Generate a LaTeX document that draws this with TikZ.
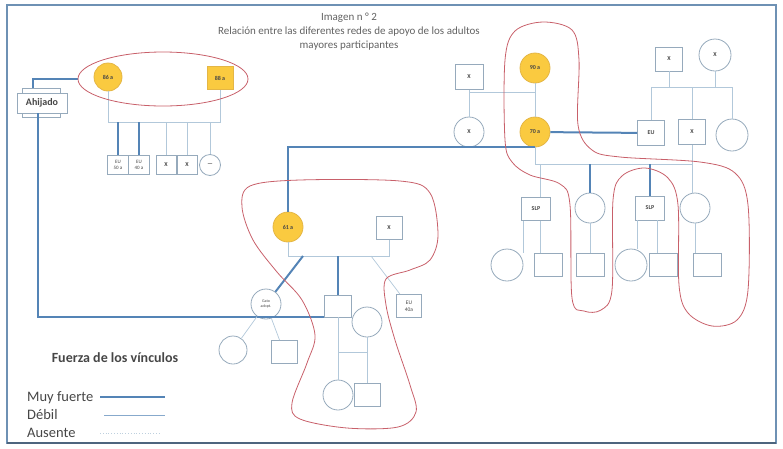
\documentclass[tikz,border=0pt]{standalone}
\usepackage{fontspec}
\setmainfont{Carlito}
\definecolor{nodeline}{RGB}{150,170,188}
\definecolor{tiestrong}{RGB}{84,132,182}
\definecolor{tieweak}{RGB}{178,200,218}
\definecolor{tieabsent}{RGB}{190,208,222}
\definecolor{elderfill}{RGB}{250,202,64}
\definecolor{elderline}{RGB}{228,182,70}
\definecolor{groupred}{RGB}{200,96,106}
\definecolor{framecol}{RGB}{110,145,180}
\definecolor{labelcol}{RGB}{70,70,70}
\tikzset{
  box/.style={draw=nodeline, fill=white, line width=0.8pt, inner sep=0pt,
    minimum width=26pt, minimum height=23pt, text=labelcol,
    font=\fontsize{6}{7}\selectfont\bfseries},
  ring/.style={circle, draw=nodeline, fill=white, line width=0.8pt, inner sep=0pt,
    minimum size=30pt, text=labelcol, font=\fontsize{6}{7}\selectfont\bfseries},
  elder/.style={fill=elderfill, draw=elderline},
  strong/.style={draw=tiestrong, line width=2pt},
  weak/.style={draw=tieweak, line width=0.7pt},
  absent/.style={draw=tieabsent, line width=0.8pt, dotted},
  group/.style={draw=groupred, line width=0.8pt},
  title/.style={text=labelcol!85, inner sep=0pt, font=\fontsize{11}{12}\selectfont},
  legend/.style={text=labelcol, inner sep=0pt, font=\fontsize{14.5}{15}\selectfont},
}
\begin{document}
\begin{tikzpicture}[x=1pt,y=-1pt]
\useasboundingbox (0,0) rectangle (783,448);
%Frame
\draw[draw=framecol, line width=1.6pt] (7,5) rectangle (776,443);
\draw[draw=framecol!70!black, line width=2.5pt] (7,443) -- (776,443);
%Title
\node[title] (ttl1) at (349,18) {Imagen n ° 2};
\node[title] (ttl2) at (349,32) {Relación entre las diferentes redes de apoyo de los adultos};
\node[title] (ttl3) at (349,46) {mayores participantes};

%Top left couple
\node[ring,elder,minimum size=28pt] (g86) at (108,77) {86 a};
\node[box,elder] (g88) at (220,78) {88 a};
\coordinate (tlL) at (108,122);
\coordinate (tlR) at (220,122);
\draw[weak] (g86) -- (tlL) -- (tlR) -- (g88);
%Their children
\node[box,minimum width=21pt,minimum height=19pt,align=center,font=\fontsize{5}{5.5}\selectfont] (c1) at (118,165) {EU\\50 a};
\node[box,minimum width=21pt,minimum height=19pt,align=center,font=\fontsize{5}{5.5}\selectfont] (c2) at (139,165) {EU\\40 a};
\node[box,minimum width=20pt,minimum height=19pt] (c3) at (166,165) {X};
\node[box,minimum width=20pt,minimum height=19pt] (c4) at (187,165) {X};
\node[ring,minimum size=21pt] (c5) at (210,165) {—};
\draw[strong] (c1 |- tlL) -- (c1);
\draw[strong] (c2 |- tlL) -- (c2);
\draw[weak] (c3 |- tlL) -- (c3);
\draw[weak] (c4 |- tlL) -- (c4);
\draw[weak] (c5 |- tlL) -- (c5);
%Ahijado
\node[box,minimum width=38pt,minimum height=29pt] (ahijb) at (41,103) {};
\node[box,minimum width=50pt,minimum height=20pt,font=\fontsize{10}{11}\selectfont\bfseries] (ahij) at (42,103) {Ahijado};
\coordinate (ovl) at (78,79);
\draw[strong] (ovl) -| (ahijb.north -| 33,0);

%Middle family
\node[ring,elder] (m61) at (288,227) {61 a};
\node[box] (mX) at (389,228) {X};
\coordinate (mbar) at (0,256);
\draw[weak] (m61) -- (m61 |- mbar) -- (mX |- mbar) -- (mX);
\node[ring,font=\fontsize{4}{4.5}\selectfont,align=center] (gato) at (266,304) {Gato\\adopt.};
\node[box,minimum width=27pt,minimum height=22pt] (m1) at (338,306) {};
\node[box,minimum width=25pt,minimum height=23pt,align=center,font=\fontsize{5.5}{6.5}\selectfont] (mEU) at (409,306) {EU\\40a};
\node[ring] (mW) at (367,322) {};
\coordinate (mb1) at (303,256);
\coordinate (mb2) at (371,256);
\draw[strong] (mb1) -- (gato);
\draw[strong] (m1 |- mbar) -- (m1);
\draw[weak] (mb2) -- (mEU);
%Long tie from Ahijado
\draw[strong] ([xshift=-4pt]ahij.south) |- (m1.south west);
%Grandchildren
\coordinate (gbar) at (0,352);
\draw[weak] (m1) -- (m1 |- gbar) -- (mW |- gbar) -- (mW);
\node[ring] (gc1) at (338,395) {};
\node[box] (gc2) at (367,395) {};
\draw[weak] (gc1 |- gbar) -- (gc1);
\draw[weak] (gc2 |- gbar) -- (gc2);
\node[ring,minimum size=28pt] (gc3) at (233,350) {};
\node[box] (gc4) at (284,352) {};
\draw[weak] (gato) -- (gc3);
\draw[weak] (gato) -- (gc4);

%Right family, elders
\node[box,minimum width=28pt,minimum height=25pt] (rX1) at (469,77) {X};
\node[ring,elder] (g90) at (535,68) {90 a};
\node[ring] (rX2) at (469,132) {X};
\node[ring,elder] (g70) at (535,132) {70 a};
\coordinate (rbar) at (0,92);
\draw[weak] (rX1) -- (rX1 |- rbar) -- (g90 |- rbar) -- (g90);
\draw[weak] (rX1 |- rbar) -- (rX2);
\draw[weak] (g70 |- rbar) -- (g70);
\draw[strong] (g70.south) -| (m61);
%Right family, in-laws
\node[box,minimum width=27pt,minimum height=24pt] (rX4) at (669,59) {X};
\node[ring,minimum size=32pt] (rX5) at (715,55) {X};
\node[box,minimum width=27pt,minimum height=25pt] (rEU) at (651,133) {EU};
\node[box,minimum width=27pt,minimum height=25pt] (rX3) at (692,132) {X};
\node[ring,minimum size=32pt] (rC) at (732,135) {};
\coordinate (ibar) at (0,87);
\draw[weak] (rX4) -- (rX4 |- ibar);
\draw[weak] (rX5) -- (rX5 |- ibar);
\draw[weak] (rEU) -- (rEU |- ibar) -- (rC |- ibar) -- (rC);
\draw[weak] (rX3) -- (rX3 |- ibar);
\draw[strong] (g70) -- (rEU);
%Children of 70 a
\node[box,minimum width=29pt,minimum height=23pt] (s1) at (536,209) {SLP};
\node[ring] (s2) at (590,208) {};
\node[box,minimum width=29pt,minimum height=24pt] (s3) at (650,208) {SLP};
\node[ring] (s4) at (695,208) {};
\coordinate (sbar) at (0,164);
\draw[weak] (g70) -- (g70 |- sbar) -- (rX3 |- sbar);
\draw[weak] (rX3) -- (rX3 |- s4.north);
\draw[weak] ([xshift=4pt]s1.north |- sbar) -- ([xshift=4pt]s1.north);
\draw[strong] (s2 |- sbar) -- (s2);
\draw[strong] (s3 |- sbar) -- (s3);
%Grandchildren of 70 a
\node[ring,minimum size=32pt] (t1) at (507,265) {};
\node[box,minimum width=28pt] (t2) at (548,265) {};
\node[box,minimum width=28pt] (t3) at (590,265) {};
\node[ring,minimum size=32pt] (t4) at (631,265) {};
\node[box,minimum width=28pt] (t5) at (663,265) {};
\node[box,minimum width=28pt] (t6) at (707,265) {};
\draw[weak] ([xshift=-13pt]s1.south) -- ([xshift=-13pt]s1.south |- t1.north east);
\draw[weak] ([xshift=4pt]s1.south) -- ([xshift=4pt]s1.south |- t2.north);
\draw[weak] (s2) -- (t3);
\draw[weak] ([xshift=-13pt]s3.south) -- ([xshift=-13pt]s3.south |- t4.north);
\draw[weak] ([xshift=7pt]s3.south) -- ([xshift=7pt]s3.south |- t5.north);
\draw[weak] (s4) -- (s4 |- t6.north);

%Support groups
\draw[group] (163,79) ellipse [x radius=85, y radius=27];
\draw[group] plot[smooth cycle, tension=0.55] coordinates {
  (250,186) (300,180) (400,181) (430,193) (438,235) (430,260) (410,270)
  (386,279) (386,305) (395,340) (410,385) (416,412) (398,427) (347,428)
  (300,419) (292,403) (307,363) (315,335) (302,300) (277,272) (253,240)
  (242,207)};
\draw[group] plot[smooth cycle, tension=0.55] coordinates {
  (543,22) (572,30) (579,60) (578,125) (592,150) (620,157) (700,162)
  (735,173) (748,205) (748,290) (737,320) (712,326) (688,313) (679,285)
  (678,205) (668,178) (645,168) (622,176) (613,200) (612,290) (601,310)
  (584,311) (572,298) (570,205) (560,184) (530,175) (512,162) (505,140)
  (505,60) (515,31)};

%Legend
\node[legend,font=\fontsize{14}{15}\selectfont\bfseries] (lgh) at (115,358) {Fuerza de los vínculos};
\node[legend,anchor=west] (lg1) at (27,398) {Muy fuerte};
\node[legend,anchor=west] (lg2) at (27,415) {Débil};
\node[legend,anchor=west] (lg3) at (27,433) {Ausente};
\coordinate (lg1a) at (100,397);
\coordinate (lg1b) at (165,397);
\coordinate (lg2a) at (104,415);
\coordinate (lg2b) at (165,415);
\coordinate (lg3a) at (100,433);
\coordinate (lg3b) at (160,433);
\draw[strong,line width=1.6pt] (lg1a) -- (lg1b);
\draw[weak,draw=tiestrong!70] (lg2a) -- (lg2b);
\draw[absent] (lg3a) -- (lg3b);
\end{tikzpicture}
\end{document}
